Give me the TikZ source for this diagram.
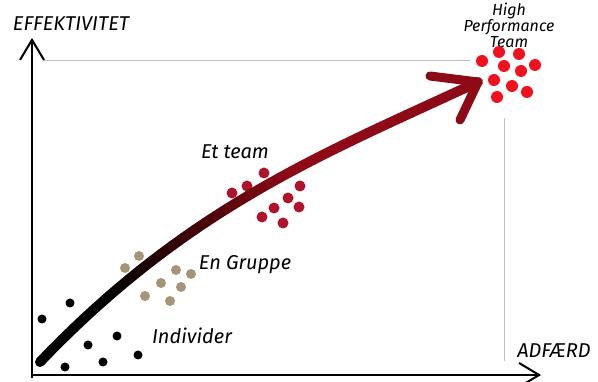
\documentclass[tikz,border=0pt]{standalone}
\usepackage{fontspec}
\setmainfont{Fira Sans}
\usetikzlibrary{arrows.meta}
\definecolor{curvered}{HTML}{8E0A16}
\definecolor{teamred}{HTML}{B0142C}
\definecolor{hptred}{HTML}{F0101E}
\definecolor{gruppecol}{HTML}{A59478}
\tikzset{
  axis/.style={line width=2pt, -{Straight Barb[length=20pt,width=24pt]}},
  guide/.style={gray!50, line width=1pt},
  lbl/.style={font=\itshape\fontsize{20}{22}\selectfont},
  axlbl/.style={font=\itshape\fontsize{20}{22}\selectfont},
  hptlbl/.style={font=\itshape\fontsize{16}{13}\selectfont, align=center},
  stroke/.style={line width=10pt, line cap=round, line join=round}
}
\begin{document}
\begin{tikzpicture}[x=1pt,y=-1pt]
  \useasboundingbox (0,0) rectangle (598,382);
  \coordinate (O) at (32,375);
  \coordinate (ytop) at (32,38);
  \coordinate (xend) at (541,375);
  \draw[guide] (43,61) -- (470,61);
  \draw[guide] (504,118) -- (504,361);
  \draw[axis] (32,378) -- (ytop);
  \draw[axis] (O) -- (xend);
  \node[axlbl] (eff) at (71,24) {EFFEKTIVITET};
  \node[axlbl] (adf) at (554,351) {ADFÆRD};
  \node[lbl] (team) at (235,152) {Et team};
  \node[lbl] (gruppe) at (245,265) {En Gruppe};
  \node[lbl] (indiv) at (192,336) {Individer};
  \node[hptlbl] (hpt) at (509,25) {High\\Performance\\Team};
  \foreach \x/\y in {42/319,70/303,88/345,117/336,65/367,103/362,138/355}
    \fill[black] (\x,\y) circle[radius=4.5pt];
  \foreach \x/\y in {139/256,125/268,176/270,191/274,161/283,181/287,145/296,170/301}
    \fill[gruppecol] (\x,\y) circle[radius=5pt];
  \foreach \x/\y in {232/193,247/186,264/173,300/186,288/198,274/208,299/207,262/217,283/223}
    \fill[teamred] (\x,\y) circle[radius=5.5pt];
  \foreach \x/\y in {499/52,519/54,482/61,504/66,521/71,535/65,494/80,512/86,527/92,497/97}
    \fill[hptred] (\x,\y) circle[radius=6pt];
  \coordinate (start) at (40,362);
  \coordinate (tip) at (478,82);
  \coordinate (wingA) at (430,76);
  \coordinate (wingB) at (460,120);
  \path (start) .. controls (190,205) and (328,152) .. (tip)
    foreach \i in {0,...,40} {coordinate[pos=\i/40] (c\i)};
  \foreach \i [evaluate=\i as \j using {int(\i+1)},
               evaluate=\i as \m using {int(min(100,max(0,(\i-6)*6)))}] in {0,...,39}
    \draw[stroke, curvered!\m!black] (c\i) -- (c\j);
  \draw[stroke, line width=9pt, curvered] (wingA) -- (tip) -- (wingB);
\end{tikzpicture}
\end{document}
